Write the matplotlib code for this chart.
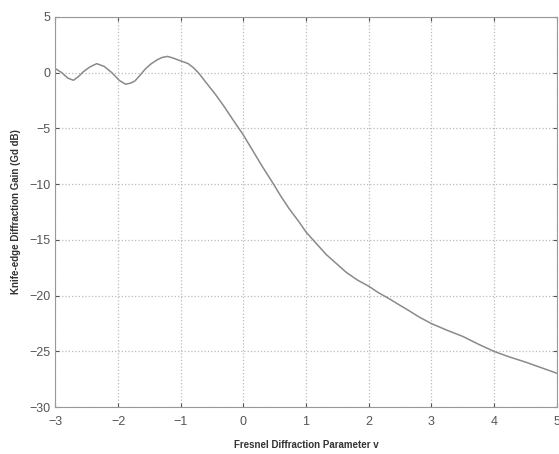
import matplotlib
matplotlib.use("Agg")
import matplotlib.pyplot as plt

# values
v_param = [-3.0, -2.9, -2.8, -2.71, -2.63, -2.55, -2.45, -2.34, -2.22, -2.10,
           -1.98, -1.88, -1.80, -1.73, -1.65, -1.57, -1.48, -1.38, -1.30, -1.21,
           -1.12, -1.04, -0.95, -0.88, -0.80, -0.72, -0.58, -0.44, -0.30, -0.17,
           0.0, 0.15, 0.30, 0.47, 0.60, 0.73, 0.89, 1.0, 1.16, 1.32,
           1.48, 1.64, 1.82, 2.0, 2.16, 2.32, 2.48, 2.63, 2.8, 3.0,
           3.25, 3.5, 3.75, 4.0, 4.25, 4.5, 4.75, 5.0]
gain_db = [0.36, 0.0, -0.5, -0.69, -0.35, 0.09, 0.5, 0.80, 0.55, 0.0,
           -0.7, -1.04, -0.95, -0.75, -0.25, 0.29, 0.75, 1.13, 1.35, 1.45,
           1.3, 1.13, 0.95, 0.80, 0.45, 0.0, -1.0, -2.0, -3.1, -4.2,
           -5.6, -7.0, -8.4, -9.9, -11.1, -12.2, -13.4, -14.3, -15.3, -16.3,
           -17.1, -17.9, -18.6, -19.15, -19.75, -20.25, -20.8, -21.3, -21.9, -22.5,
           -23.1, -23.65, -24.35, -25.0, -25.5, -25.95, -26.45, -26.95]

x_ticks = [-3, -2, -1, 0, 1, 2, 3, 4, 5]
y_ticks = [-30, -25, -20, -15, -10, -5, 0, 5]

plt.rcParams["font.family"] = ["Liberation Sans", "DejaVu Sans"]

fig = plt.figure(figsize=(5.59, 4.54), dpi=100)
ax = fig.add_axes([0.099, 0.103, 0.897, 0.86])

ax.plot(v_param, gain_db, color="#8a8a8a", linewidth=1.1)

ax.set_xlim(-3, 5)
ax.set_ylim(-30, 5)
ax.set_xticks(x_ticks)
ax.set_yticks(y_ticks)
ax.set_xticklabels([str(t).replace("-", "\u2212") for t in x_ticks])
ax.set_yticklabels([str(t).replace("-", "\u2212") for t in y_ticks])
ax.tick_params(direction="in", length=3, top=True, right=True,
               labelsize=9, colors="#555555", labelcolor="#555555")
ax.tick_params(axis="x", pad=6)
for s in ax.spines.values():
    s.set_color("#999999")
ax.grid(True, linestyle=":", color="#bbbbbb", linewidth=0.9)

ax.set_xlabel("Fresnel Diffraction Parameter v", fontsize=7, fontweight="bold",
              color="#333333", labelpad=9)
ax.set_ylabel("Knife-edge Diffraction Gain (Gd dB)", fontsize=7, fontweight="bold",
              color="#333333", labelpad=6)

fig.savefig("out.png", dpi=100)
